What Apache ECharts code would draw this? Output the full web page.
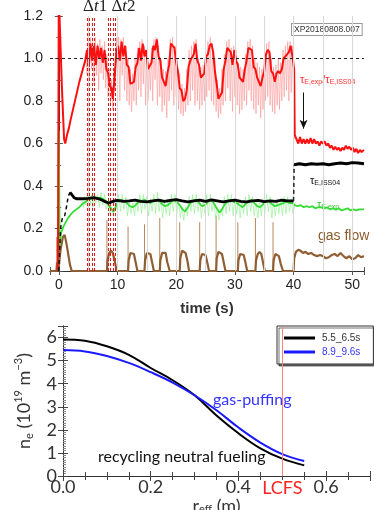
<!DOCTYPE html>
<html><head><meta charset="utf-8">
<script src="https://cdn.jsdelivr.net/npm/echarts@6/dist/echarts.min.js"></script>
<style>html,body{margin:0;padding:0;background:#fff}#c{width:374px;height:510px}</style>
</head><body><div id="c"></div>
<script>
// ---------- top panel data: [time (s), value] ----------
const redMain = [[-0.15,0],[0,1.3],[0.3,1.3],[0.55,0.85],[0.9,0.62],[1.1,0.6],[1.4,0.64],[1.7,0.67],[2,0.71],[2.5,0.77],[3,0.83],[3.5,0.89],[4,0.94],[4.5,0.99],[4.8,1.04],[5.1,0.96],[5.4,1.07],[5.7,0.99],[6.0,1.06],[6.3,0.97],[6.6,1.06],[6.9,1.0],[7.2,1.05],[7.5,0.98],[7.8,1.04],[8.1,0.95],[8.4,0.93],[8.7,0.87],[9.0,0.86],[9.2,0.81],[9.5,0.91],[9.8,1.03],[10.1,1.06],[10.4,0.99],[10.7,1.08],[11.0,1.01],[11.3,1.06],[11.6,0.97],[11.9,0.96],[12.2,0.88],[12.5,0.88],[12.8,0.89],[13.1,0.96],[13.4,0.98],[13.7,1.05],[14.0,0.99],[14.3,1.07],[14.6,1.01],[14.9,1.04],[15.2,0.95],[15.5,0.95],[15.8,0.98],[16.1,1.06],[16.4,1.04],[16.7,1.09],[17.0,1.01],[17.3,0.99],[17.6,0.91],[17.9,0.91],[18.2,0.87],[18.5,0.93],[18.8,0.97],[19.1,1.07],[19.4,1.07],[19.7,1.05],[20.0,0.98],[20.3,0.94],[20.6,0.86],[20.9,0.85],[21.2,0.8],[21.5,0.81],[21.8,0.85],[22.1,0.96],[22.4,0.99],[22.7,0.99],[23.0,1.02],[23.3,1.07],[23.6,0.99],[23.9,0.97],[24.2,0.91],[24.5,0.91],[24.8,0.93],[25.1,1.01],[25.4,1.02],[25.7,1.06],[26.0,1.07],[26.3,1.03],[26.6,0.94],[26.9,0.88],[27.2,0.81],[27.5,0.81],[27.8,0.84],[28.1,0.95],[28.4,0.99],[28.7,1.05],[29.0,1.05],[29.3,1.03],[29.6,0.97],[29.9,1.04],[30.2,0.99],[30.5,0.97],[30.8,0.91],[31.1,0.91],[31.4,0.89],[31.7,0.95],[32.0,0.99],[32.3,1.05],[32.6,1.05],[32.9,1.04],[33.2,0.96],[33.5,0.95],[33.8,0.91],[34.1,0.91],[34.4,0.87],[34.7,0.91],[35.0,0.94],[35.3,1.02],[35.6,1.04],[35.9,1.03],[36.2,0.94],[36.5,0.93],[36.8,0.89],[37.1,0.93],[37.4,0.94],[37.7,0.93],[38.0,0.95],[38.3,1.0],[38.6,1.01],[38.9,1.01],[39.2,1.03],[39.5,1.06],[39.8,1.01],[40.1,0.95],[40.2,0.64],[40.5,0.62],[40.8,0.6],[41.1,0.63],[41.4,0.6],[41.7,0.62],[42.0,0.6],[42.3,0.62],[42.6,0.6],[42.9,0.625],[43.2,0.6],[43.5,0.62],[43.8,0.6],[44.1,0.61],[44.4,0.59],[44.7,0.61],[45.0,0.6],[45.3,0.61],[45.6,0.59],[45.9,0.6],[46.2,0.58],[46.5,0.59],[46.8,0.57],[47.1,0.585],[47.4,0.57],[47.7,0.58],[48.0,0.565],[48.3,0.58],[48.6,0.57],[48.9,0.59],[49.2,0.575],[49.5,0.585],[49.8,0.57],[50.1,0.58],[50.4,0.56],[50.7,0.575],[51.0,0.555],[51.3,0.57],[51.6,0.56],[52.0,0.57]];
const redSpikes = [[4.6,1.0],[4.8,0.93],[5.0,1.08],[5.2,0.9],[5.4,1.1],[5.6,0.95],[5.8,1.08],[6.0,0.88],[6.2,1.1],[6.4,0.92],[6.6,1.07],[6.8,0.85],[7.0,1.09],[7.2,0.93],[7.4,1.06],[7.6,0.9],[7.8,1.08],[8.0,0.86],[8.2,1.02],[8.4,0.82],[8.6,0.95],[8.8,0.78],[9.0,0.9],[9.2,0.76],[9.4,0.95],[9.6,0.85],[9.8,1.1],[10.0,0.9],[10.2,1.1],[10.4,0.8],[10.6,1.09],[10.8,0.92],[11.0,1.1],[11.2,0.85],[11.4,1.06],[11.6,0.8],[11.8,1.0],[12.0,0.78],[12.2,0.95],[12.4,0.75],[12.6,0.93],[12.8,0.8],[13.0,1.0],[13.2,0.78],[13.4,1.05],[13.6,0.85],[13.8,1.08],[14.0,0.82],[14.2,1.09],[14.4,0.88],[14.6,1.06],[14.8,0.78],[15.0,1.04],[15.2,0.8],[15.4,0.98],[15.6,0.85],[15.8,1.05],[16.0,0.8],[16.2,1.09],[16.4,0.9],[16.6,1.1],[16.8,0.78],[17.0,1.06],[17.2,0.82],[17.4,1.0],[17.6,0.75],[17.8,0.95],[18.0,0.78],[18.2,0.94],[18.4,0.72],[18.6,1.0],[18.8,0.8],[19.0,1.09],[19.2,0.85],[19.4,1.1],[19.6,0.78],[19.8,1.06],[20.0,0.82],[20.2,1.0],[20.4,0.76],[20.6,0.93],[20.8,0.74],[21.0,0.88],[21.2,0.73],[21.4,0.86],[21.6,0.75],[21.8,0.95],[22.0,0.78],[22.2,1.04],[22.4,0.8],[22.6,1.06],[22.8,0.85],[23.0,1.08],[23.2,0.78],[23.4,1.09],[23.6,0.8],[23.8,1.0],[24.0,0.76],[24.2,0.96],[24.4,0.78],[24.6,0.97],[24.8,0.8],[25.0,1.05],[25.2,0.82],[25.4,1.08],[25.6,0.85],[25.8,1.1],[26.0,0.8],[26.2,1.07],[26.4,0.78],[26.6,1.0],[26.8,0.75],[27.0,0.9],[27.2,0.72],[27.4,0.86],[27.6,0.74],[27.8,0.95],[28.0,0.78],[28.2,1.02],[28.4,0.8],[28.6,1.08],[28.8,0.86],[29.0,1.09],[29.2,0.8],[29.4,1.05],[29.6,0.75],[29.8,1.06],[30.0,0.82],[30.2,1.04],[30.4,0.78],[30.6,0.98],[30.8,0.74],[31.0,0.96],[31.2,0.76],[31.4,0.95],[31.6,0.8],[31.8,1.02],[32.0,0.78],[32.2,1.08],[32.4,0.85],[32.6,1.09],[32.8,0.8],[33.0,1.06],[33.2,0.76],[33.4,1.0],[33.6,0.74],[33.8,0.98],[34.0,0.78],[34.2,0.96],[34.4,0.72],[34.6,0.95],[34.8,0.76],[35.0,1.0],[35.2,0.8],[35.4,1.07],[35.6,0.82],[35.8,1.08],[36.0,0.78],[36.2,1.0],[36.4,0.75],[36.6,0.96],[36.8,0.74],[37.0,0.97],[37.2,0.78],[37.4,1.0],[37.6,0.76],[37.8,0.98],[38.0,0.8],[38.2,1.04],[38.4,0.82],[38.6,1.06],[38.8,0.85],[39.0,1.08],[39.2,0.8],[39.4,1.08],[39.6,0.84],[39.8,1.06],[40.0,0.8],[40.2,0.62]];
const greenMain = [[-0.1,0],[0,0.66],[0.15,0.12],[0.4,0.18],[0.8,0.21],[1.2,0.23],[1.6,0.25],[2,0.265],[2.5,0.28],[3,0.29],[3.5,0.3],[4,0.315],[4.5,0.325],[5,0.335],[5.5,0.34],[6,0.345],[6.5,0.34],[7,0.345],[7.5,0.34],[8,0.33],[8.5,0.31],[9,0.29],[9.3,0.28],[9.7,0.3],[10.1,0.33],[10.6,0.335],[11.1,0.33],[11.6,0.32],[12.1,0.305],[12.6,0.3],[13.1,0.31],[13.6,0.325],[14.1,0.33],[14.6,0.335],[15.1,0.325],[15.6,0.32],[16.1,0.33],[16.6,0.335],[17.1,0.33],[17.6,0.315],[18.1,0.305],[18.6,0.31],[19.1,0.325],[19.6,0.335],[20.1,0.325],[20.6,0.31],[21.1,0.29],[21.5,0.28],[21.9,0.295],[22.4,0.32],[22.9,0.33],[23.4,0.335],[23.9,0.32],[24.4,0.305],[24.9,0.31],[25.4,0.325],[25.9,0.335],[26.4,0.32],[26.9,0.295],[27.4,0.275],[27.8,0.29],[28.3,0.315],[28.8,0.33],[29.3,0.335],[29.8,0.325],[30.3,0.32],[30.8,0.31],[31.3,0.3],[31.8,0.315],[32.3,0.33],[32.8,0.335],[33.3,0.32],[33.8,0.305],[34.3,0.3],[34.8,0.315],[35.3,0.33],[35.8,0.33],[36.3,0.315],[36.8,0.305],[37.3,0.31],[37.8,0.315],[38.3,0.32],[38.8,0.325],[39.3,0.32],[39.8,0.32],[40.2,0.31],[40.7,0.305],[41.2,0.31],[41.7,0.3],[42.2,0.305],[42.7,0.3],[43.2,0.305],[43.7,0.295],[44.2,0.3],[44.7,0.3],[45.2,0.295],[45.7,0.3],[46.2,0.29],[46.7,0.295],[47.2,0.29],[47.7,0.295],[48.2,0.285],[48.7,0.29],[49.2,0.295],[49.7,0.285],[50.2,0.29],[50.7,0.285],[51.2,0.29],[51.7,0.29],[52,0.29]];
const greenSpikes = [[4.0,0.33],[4.2,0.3],[4.4,0.35],[4.6,0.31],[4.8,0.36],[5.0,0.3],[5.2,0.37],[5.4,0.31],[5.6,0.36],[5.8,0.3],[6.0,0.37],[6.3,0.32],[6.6,0.36],[6.9,0.3],[7.2,0.37],[7.5,0.31],[7.8,0.36],[8.1,0.29],[8.4,0.33],[8.7,0.27],[9.0,0.3],[9.3,0.26],[9.6,0.31],[9.9,0.29],[10.2,0.36],[10.5,0.28],[10.8,0.36],[11.1,0.29],[11.4,0.35],[11.7,0.26],[12.0,0.33],[12.3,0.27],[12.6,0.32],[12.9,0.26],[13.2,0.34],[13.5,0.28],[13.8,0.36],[14.1,0.27],[14.4,0.36],[14.7,0.29],[15.0,0.35],[15.3,0.26],[15.6,0.34],[15.9,0.28],[16.2,0.36],[16.5,0.27],[16.8,0.37],[17.1,0.28],[17.4,0.34],[17.7,0.25],[18.0,0.33],[18.3,0.27],[18.6,0.34],[18.9,0.26],[19.2,0.36],[19.5,0.28],[19.8,0.36],[20.1,0.27],[20.4,0.34],[20.7,0.25],[21.0,0.3],[21.3,0.24],[21.6,0.3],[21.9,0.26],[22.2,0.35],[22.5,0.28],[22.8,0.36],[23.1,0.27],[23.4,0.36],[23.7,0.28],[24.0,0.33],[24.3,0.25],[24.6,0.34],[24.9,0.27],[25.2,0.36],[25.5,0.26],[25.8,0.36],[26.1,0.28],[26.4,0.34],[26.7,0.25],[27.0,0.3],[27.3,0.24],[27.6,0.29],[27.9,0.26],[28.2,0.35],[28.5,0.27],[28.8,0.36],[29.1,0.28],[29.4,0.36],[29.7,0.26],[30.0,0.34],[30.3,0.27],[30.6,0.33],[30.9,0.25],[31.2,0.33],[31.5,0.27],[31.8,0.35],[32.1,0.26],[32.4,0.36],[32.7,0.28],[33.0,0.35],[33.3,0.26],[33.6,0.33],[33.9,0.25],[34.2,0.33],[34.5,0.26],[34.8,0.34],[35.1,0.27],[35.4,0.36],[35.7,0.28],[36.0,0.35],[36.3,0.25],[36.6,0.33],[36.9,0.26],[37.2,0.34],[37.5,0.27],[37.8,0.34],[38.1,0.26],[38.4,0.35],[38.7,0.27],[39.0,0.35],[39.3,0.28],[39.6,0.34],[39.9,0.27],[40.2,0.31]];
const blackStart = [[0,0],[0.3,0.2],[0.6,0.25],[1.0,0.26],[1.3,0.3],[1.6,0.35],[1.9,0.37]];
const blackMain = [[1.9,0.37],[2.2,0.36],[2.6,0.345],[3,0.34],[4,0.34],[5,0.342],[6,0.345],[7,0.338],[7.5,0.332],[8,0.325],[8.5,0.32],[9,0.325],[9.5,0.33],[10,0.332],[11,0.328],[12,0.33],[13,0.334],[14,0.328],[15,0.325],[16,0.33],[17,0.334],[18,0.328],[19,0.332],[20,0.336],[21,0.33],[22,0.325],[23,0.33],[24,0.334],[25,0.328],[26,0.335],[27,0.33],[28,0.325],[29,0.33],[30,0.334],[31,0.328],[32,0.325],[33,0.33],[34,0.332],[35,0.326],[36,0.33],[37,0.328],[38,0.333],[39,0.33],[40,0.33]];
const blackJump = [[40,0.33],[40.1,0.5]];
const blackLate = [[40.1,0.5],[41,0.505],[42,0.5],[43,0.505],[44,0.502],[45,0.505],[46,0.5],[47,0.505],[48,0.508],[49,0.505],[50,0.51],[51,0.508],[52,0.505]];
const gasFlow = [[-1.5,0],[-0.4,0],[-0.3,0.04],[0,0.02],[0.3,0.1],[0.7,0.16],[1.0,0.17],[1.3,0.13],[1.6,0.08],[1.9,0.03],[2.2,0],[8.2,0],[8.3,0.05],[8.6,0.085],[8.9,0.095],[9.2,0.085],[9.5,0.05],[9.8,0.01],[10.0,0],[11.8,0],[11.9,0.05],[12.2,0.085],[12.5,0.09],[12.8,0.08],[13.1,0.04],[13.4,0],[14.6,0],[14.7,0.05],[15.0,0.085],[15.3,0.09],[15.6,0.08],[15.9,0.04],[16.2,0],[17.2,0],[17.3,0.05],[17.6,0.085],[17.9,0.09],[18.2,0.085],[18.5,0.04],[18.9,0],[20.6,0],[20.7,0.06],[21.0,0.095],[21.3,0.1],[21.6,0.085],[21.9,0.05],[22.2,0],[24.0,0],[24.1,0.05],[24.4,0.08],[24.7,0.085],[25.0,0.075],[25.3,0.04],[25.6,0],[26.8,0],[26.9,0.06],[27.2,0.09],[27.5,0.095],[27.8,0.08],[28.1,0.04],[28.4,0],[30.5,0],[30.6,0.05],[30.9,0.08],[31.2,0.085],[31.5,0.075],[31.8,0.04],[32.1,0],[33.5,0],[33.6,0.05],[33.9,0.08],[34.2,0.09],[34.5,0.08],[34.8,0.04],[35.1,0],[36.5,0],[36.6,0.05],[36.9,0.08],[37.2,0.085],[37.5,0.07],[37.8,0.035],[38.2,0],[40.0,0],[40.1,0.06],[40.4,0.09],[40.8,0.1],[41.2,0.095],[41.6,0.085],[42.0,0.09],[42.5,0.08],[43.0,0.085],[43.5,0.075],[44.0,0.07],[44.5,0.075],[45.0,0.07],[45.5,0.06],[46.0,0.065],[46.5,0.075],[47.0,0.08],[47.5,0.07],[48.0,0.085],[48.5,0.07],[49.0,0.06],[49.5,0.07],[50.0,0.055],[50.5,0.06],[51.0,0.075],[51.5,0.065],[52,0.07]];
const gasSpikes = [[-0.35,0.16],[8.2,0.24],[11.8,0.21],[14.6,0.22],[17.2,0.25],[20.6,0.23],[24.0,0.23],[26.8,0.26],[30.5,0.23],[33.5,0.25],[36.5,0.23],[40.0,0.25]];
const windowLines = [4.84,5.18,5.62,5.96,8.35,8.69,9.2,9.54];
const gridTimes = [5,10,15,20,25,30,35,40,45,50];
const refLevel = 1.0;
const arrowFrom = [41.7,0.84], arrowTo = [41.7,0.67];

// ---------- bottom panel data ----------
const rEff = [0,0.05,0.1,0.15,0.2,0.25,0.3,0.35,0.4,0.45,0.5,0.55];
const ne_5_5 = [5.92,5.86,5.62,5.25,4.68,4.15,3.5,2.62,1.85,1.2,0.75,0.46];
const ne_8_9 = [5.46,5.4,5.2,4.9,4.5,4.05,3.5,2.85,2.1,1.45,0.95,0.65];
const lcfs = 0.5;
const legendNames = ['5.5_6.5s','8.9_9.6s'];

const F = 'Liberation Sans';
const L = 'Lato';
const chart = echarts.init(document.getElementById('c'), null, {renderer:'canvas'});
const axLine = {show:true, lineStyle:{color:'#333', width:1}};
const noLbl = {show:false};

function pairs(xs, ys){ return xs.map((x,i)=>[x, ys[i]]); }

const option = {
  backgroundColor:'#fff',
  animation:false,
  grid:[
    {left:50, top:16, width:314, height:255, outerBoundsMode:'none', containLabel:false},
    {left:63, top:326, width:307, height:150, outerBoundsMode:'none', containLabel:false}
  ],
  xAxis:[
    {gridIndex:0, type:'value', min:-1.5, max:52, position:'bottom',
     axisLine:axLine, splitLine:{show:false},
     axisTick:{inside:true, length:4, lineStyle:{color:'#555'}},
     axisLabel:{fontFamily:F, fontSize:14, color:'#222', margin:7,
       formatter:v=> (Math.abs(v%10)<1e-9 ? String(v) : '')},
     name:'time (s)', nameLocation:'middle', nameGap:30,
     nameTextStyle:{fontFamily:F, fontSize:15, fontWeight:'bold', color:'#333'}},
    {gridIndex:0, type:'value', min:-1.5, max:52, position:'top',
     axisLine:axLine, splitLine:{show:false}, axisLabel:noLbl,
     axisTick:{inside:true, length:4, lineStyle:{color:'#555'}}},
    {gridIndex:1, type:'value', min:0, max:0.7, interval:0.2, position:'bottom',
     axisLine:axLine, splitLine:{show:false},
     axisTick:{inside:true, length:5, lineStyle:{color:'#444'}},
     minorTick:{show:true, splitNumber:4, length:4, lineStyle:{color:'#444'}},
     axisLabel:{fontFamily:L, fontSize:18, color:'#333', margin:2, showMinLabel:true,
       formatter:v=> (Math.abs(v/0.2-Math.round(v/0.2))<1e-6 ? v.toFixed(1) : '')},
     name:'{a|r}{s|eff}{a| (m)}', nameLocation:'middle', nameGap:15,
     nameTextStyle:{rich:{
       a:{fontFamily:L, fontSize:18, color:'#333', lineHeight:19, verticalAlign:'middle'},
       s:{fontFamily:L, fontSize:11, color:'#333', lineHeight:9, verticalAlign:'bottom'}}}},
    {gridIndex:1, type:'value', min:0, max:0.7, interval:0.2, position:'top',
     axisLine:axLine, splitLine:{show:false}, axisLabel:noLbl,
     axisTick:{inside:true, length:5, lineStyle:{color:'#444'}},
     minorTick:{show:true, splitNumber:4, length:4, lineStyle:{color:'#444'}}}
  ],
  yAxis:[
    {gridIndex:0, type:'value', min:0, max:1.2, interval:0.2, position:'left',
     axisLine:axLine, splitLine:{show:false},
     axisTick:{inside:true, length:4, lineStyle:{color:'#555'}},
     minorTick:{show:true, splitNumber:2, length:2.5, lineStyle:{color:'#777'}},
     axisLabel:{fontFamily:F, fontSize:14, color:'#222', margin:7, showMinLabel:true, showMaxLabel:true,
       formatter:v=>v.toFixed(1)}},
    {gridIndex:0, type:'value', min:0, max:1.2, interval:0.2, position:'right',
     axisLine:axLine, splitLine:{show:false}, axisLabel:noLbl,
     axisTick:{inside:true, length:4, lineStyle:{color:'#555'}},
     minorTick:{show:true, splitNumber:2, length:2.5, lineStyle:{color:'#777'}}},
    {gridIndex:1, type:'value', min:0, max:6.5, interval:1, position:'left',
     axisLine:axLine, splitLine:{show:false},
     axisTick:{inside:true, length:5, lineStyle:{color:'#444'}},
     minorTick:{show:true, splitNumber:10, length:3, lineStyle:{color:'#888'}},
     axisLabel:{fontFamily:L, fontSize:18, color:'#333', margin:6, showMinLabel:true,
       formatter:v=> (Math.abs(v-Math.round(v))<1e-6 ? String(v) : '')},
     name:'{a|n}{s|e}{a| (10}{p|19}{a| m}{p|−3}{a|)}', nameLocation:'middle', nameGap:28, nameRotate:90,
     nameTextStyle:{rich:{
       a:{fontFamily:L, fontSize:18, color:'#333', lineHeight:22, verticalAlign:'middle'},
       s:{fontFamily:L, fontSize:11, color:'#333', lineHeight:10, verticalAlign:'bottom'},
       p:{fontFamily:L, fontSize:11, color:'#333', lineHeight:10, verticalAlign:'top'}}}},
    {gridIndex:1, type:'value', min:0, max:6.5, interval:1, position:'right',
     axisLine:axLine, splitLine:{show:false}, axisLabel:noLbl,
     axisTick:{inside:true, length:5, lineStyle:{color:'#444'}}}
  ],
  legend:{
    orient:'vertical', left:277, top:326, padding:[7,13,7,7], itemGap:4,
    itemWidth:31, itemHeight:3, icon:'rect',
    borderColor:'#333', borderWidth:1, backgroundColor:'#fff',
    shadowColor:'rgba(0,0,0,0.55)', shadowOffsetX:2, shadowOffsetY:2, shadowBlur:0,
    textStyle:{fontFamily:F, fontSize:10, padding:[0,0,0,2]},
    data:[{name:legendNames[0], textStyle:{color:'#333'}},{name:legendNames[1], textStyle:{color:'#3333ee'}}]
  },
  graphic:[
    {type:'text', left:83, top:-2, style:{text:'{d|Δ}{t|t}{d|1 Δ}{t|t}{d|2}', rich:{
      d:{fontFamily:'Liberation Serif', fontSize:17, fill:'#222'},
      t:{fontFamily:'Liberation Serif', fontSize:17, fontStyle:'italic', fill:'#222'}}}},
    {type:'text', left:291, top:23, style:{text:'XP20180808.007', fontFamily:F, fontSize:8.5, fill:'#333',
      backgroundColor:'#fff', borderColor:'#999', borderWidth:1, padding:[1,2,1,2]}},
    {type:'text', left:300, top:74, style:{text:'{m|τ}{s|E,exp}{m|/τ}{s|E,ISS04}', rich:{
      m:{fontFamily:F, fontSize:11, fill:'#ff3030', lineHeight:13, verticalAlign:'middle'},
      s:{fontFamily:F, fontSize:7, fill:'#ff3030', lineHeight:8, verticalAlign:'bottom'}}}},
    {type:'text', left:310, top:175, style:{text:'{m|τ}{s|E,ISS04}', rich:{
      m:{fontFamily:F, fontSize:11, fill:'#111', lineHeight:13, verticalAlign:'middle'},
      s:{fontFamily:F, fontSize:7, fill:'#111', lineHeight:8, verticalAlign:'bottom'}}}},
    {type:'text', left:317, top:199, style:{text:'{m|τ}{s|E,exp}', rich:{
      m:{fontFamily:F, fontSize:11, fill:'#33cc33', lineHeight:13, verticalAlign:'middle'},
      s:{fontFamily:F, fontSize:7, fill:'#33cc33', lineHeight:8, verticalAlign:'bottom'}}}},
    {type:'text', left:318, top:229, style:{text:'gas flow', fontFamily:F, fontSize:14, fill:'#8b5a2b'}},
    {type:'text', left:213, top:392, style:{text:'gas-puffing', fontFamily:L, fontSize:16, fill:'#3333ff'}},
    {type:'text', left:98, top:449, style:{text:'recycling neutral fueling', fontFamily:L, fontSize:16, fill:'#111'}}
  ],
  series:[
    {type:'line', xAxisIndex:0, yAxisIndex:0, data:[], z:1, silent:true,
     markLine:{silent:true, symbol:'none', label:{show:false},
       lineStyle:{color:'#d8d8d8', width:1, type:'solid'},
       data:gridTimes.map(t=>({xAxis:t}))}},
    {type:'bar', xAxisIndex:0, yAxisIndex:0, data:gasSpikes, barWidth:1, z:2, silent:true,
     itemStyle:{color:'#b9875a'}},
    {type:'line', xAxisIndex:0, yAxisIndex:0, data:gasFlow, symbol:'none', z:2,
     lineStyle:{color:'#8f5f33', width:2.2}},
    {type:'line', xAxisIndex:0, yAxisIndex:0, data:greenSpikes, symbol:'none', z:3,
     lineStyle:{color:'#8af08a', width:0.6}},
    {type:'line', xAxisIndex:0, yAxisIndex:0, data:greenMain, symbol:'none', z:3,
     lineStyle:{color:'#33dd33', width:1.8}},
    {type:'line', xAxisIndex:0, yAxisIndex:0, data:redSpikes, symbol:'none', z:3,
     lineStyle:{color:'#ff8c8c', width:0.55}},
    {type:'line', xAxisIndex:0, yAxisIndex:0, data:redMain, symbol:'none', z:4,
     lineStyle:{color:'#ff1010', width:2},
     markLine:{silent:true, label:{show:false}, animation:false,
       data:[
         [{coord:[-1.5,refLevel], symbol:'none', lineStyle:{color:'#222', width:1, type:[3,3]}},{coord:[52,refLevel], symbol:'none'}],
         [{coord:arrowFrom, symbol:'none', lineStyle:{color:'#111', width:1, type:'solid'}},{coord:arrowTo, symbol:'arrow', symbolSize:[6,9]}]
       ]}},
    {type:'line', xAxisIndex:0, yAxisIndex:0, data:blackStart, symbol:'none', z:5,
     lineStyle:{color:'#111', width:1.5, type:[4,3]}},
    {type:'line', xAxisIndex:0, yAxisIndex:0, data:blackMain, symbol:'none', z:5,
     lineStyle:{color:'#000', width:2.8}},
    {type:'line', xAxisIndex:0, yAxisIndex:0, data:blackJump, symbol:'none', z:5,
     lineStyle:{color:'#222', width:1.5, type:[4,3]}},
    {type:'line', xAxisIndex:0, yAxisIndex:0, data:blackLate, symbol:'none', z:5,
     lineStyle:{color:'#000', width:3}},
    {type:'line', xAxisIndex:0, yAxisIndex:0, data:[], z:6, silent:true,
     markLine:{silent:true, symbol:'none', label:{show:false},
       lineStyle:{color:'#e01818', width:1, type:[3,2]},
       data:windowLines.map(t=>[{coord:[t,0]},{coord:[t,1.2]}])}},
    // bottom panel
    {type:'line', name:legendNames[0], xAxisIndex:2, yAxisIndex:2, data:pairs(rEff, ne_5_5), smooth:0.4,
     symbol:'none', lineStyle:{color:'#000', width:2}, itemStyle:{color:'#000'}, z:3,
     markLine:{silent:true, symbol:'none', animation:false,
       lineStyle:{color:'#ff8080', width:1, type:'solid'},
       label:{show:true, position:'start', distance:3, formatter:'LCFS', color:'#ff2020', fontFamily:L, fontSize:18},
       data:[[{coord:[lcfs,0]},{coord:[lcfs,6.5]}]]}},
    {type:'line', name:legendNames[1], xAxisIndex:2, yAxisIndex:2, data:pairs(rEff, ne_8_9), smooth:0.4,
     symbol:'none', lineStyle:{color:'#1a1aff', width:2}, itemStyle:{color:'#1a1aff'}, z:3}
  ]
};
chart.setOption(option);
</script></body></html>
